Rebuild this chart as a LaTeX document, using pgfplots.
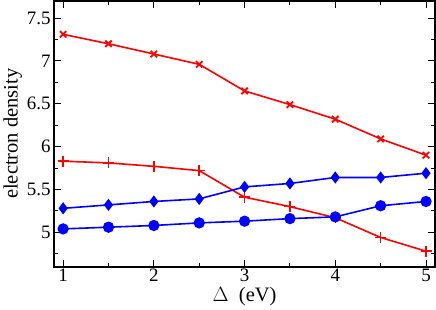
\documentclass[border=0pt]{standalone}
\usepackage{pgfplots}
\pgfplotsset{compat=1.18}
\usepackage{fontspec}
\setmainfont{Liberation Serif}
\begin{document}
\begin{tikzpicture}[x=1bp,y=1bp]
\begin{axis}[
  scale only axis,
  width=380bp, height=265bp,
  xmin=0.9, xmax=5.1, ymin=4.6, ymax=7.7,
  xtick={1,2,3,4,5}, ytick={5,5.5,6,6.5,7,7.5},
  minor xtick={1.5,2.5,3.5,4.5},
  minor ytick={4.75,5.25,5.75,6.25,6.75,7.25},
  tick align=inside,
  major tick length=7bp, minor tick length=4bp,
  every tick/.style={black, line width=1bp},
  axis line style={line width=1.8bp},
  xticklabel={\pgfmathprintnumber[assume math mode=true,fixed]{\tick}},
  yticklabel={\pgfmathprintnumber[assume math mode=true,fixed]{\tick}},
  tick label style={font=\fontsize{19}{20}\selectfont},
  xticklabel style={yshift=1bp},
  label style={font=\fontsize{20.5}{22}\selectfont},
  xlabel={$\Delta$\ \ (eV)},
  ylabel={electron density},
  xlabel style={yshift=1bp},
  ylabel style={yshift=-2bp},
  clip=false,
]
\addplot[red, line width=1.6bp, mark=x, mark size=4.5bp, mark options={line width=1.8bp,solid}] coordinates {
(1,7.31) (1.5,7.20) (2,7.08) (2.5,6.96) (3,6.65) (3.5,6.49) (4,6.32) (4.5,6.09) (5,5.90)};
\addplot[red, line width=1.6bp, mark=+, mark size=5.5bp, mark options={line width=1.6bp,solid,red}] coordinates {
(1,5.83) (1.5,5.81) (2,5.77) (2.5,5.72) (3,5.41) (3.5,5.30) (4,5.17) (4.5,4.94) (5,4.78)};
\addplot[blue, line width=1.6bp, mark=diamond*, mark size=4.8bp] coordinates {
(1,5.28) (1.5,5.32) (2,5.36) (2.5,5.39) (3,5.53) (3.5,5.57) (4,5.64) (4.5,5.64) (5,5.69)};
\addplot[blue, line width=1.6bp, mark=*, mark size=4.8bp] coordinates {
(1,5.04) (1.5,5.06) (2,5.08) (2.5,5.11) (3,5.13) (3.5,5.16) (4,5.18) (4.5,5.31) (5,5.36)};
\end{axis}
\end{tikzpicture}
\end{document}
